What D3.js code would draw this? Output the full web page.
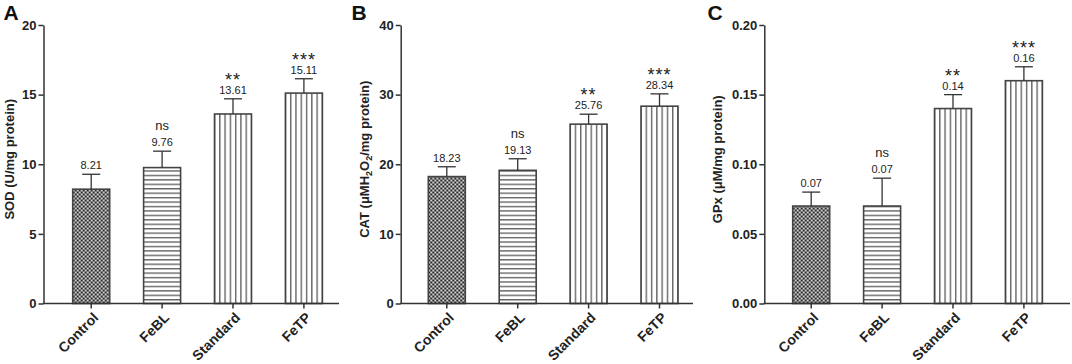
<!DOCTYPE html>
<html>
<head>
<meta charset="utf-8">
<script src="https://cdn.jsdelivr.net/npm/d3@7"></script>
<style>
  html, body { margin: 0; padding: 0; background: #fff; }
  svg { display: block; font-family: "Liberation Sans", Arial, Helvetica, sans-serif; }
</style>
</head>
<body>
<svg id="chart" width="1072" height="364"></svg>
<script>
// ---- data ----
const categories = ["Control", "FeBL", "Standard", "FeTP"];
const significance = ["", "ns", "**", "***"];

const sodValues = [8.21, 9.76, 13.61, 15.11];
const sodErrors = [1.07, 1.18, 1.09, 1.03];
const sodLabels = ["8.21", "9.76", "13.61", "15.11"];
const sodTicks = [0, 5, 10, 15, 20];

const catValues = [18.23, 19.13, 25.76, 28.34];
const catErrors = [1.41, 1.66, 1.43, 1.77];
const catLabels = ["18.23", "19.13", "25.76", "28.34"];
const catTicks = [0, 10, 20, 30, 40];

const gpxValues = [0.07, 0.07, 0.14, 0.16];
const gpxErrors = [0.01, 0.02, 0.01, 0.01];
const gpxLabels = ["0.07", "0.07", "0.14", "0.16"];
const gpxTicks = [0, 0.05, 0.10, 0.15, 0.20];

const patternTypes = ["checker", "hlines", "vlines", "vlines"];

// ---- layout ----
const panels = [
  { letter: "A", letterX: 3.5, axisX: 43.5, axisEnd: 339, barStart: 72.7, titleX: 13.5,
    values: sodValues, errors: sodErrors, labels: sodLabels, ticks: sodTicks,
    fmt: d3.format("d"), title: [["SOD (U/mg protein)", false]] },
  { letter: "B", letterX: 351.5, axisX: 400.7, axisEnd: 693, barStart: 428.3, titleX: 369,
    values: catValues, errors: catErrors, labels: catLabels, ticks: catTicks,
    fmt: d3.format("d"), title: [["CAT (\u03BCMH", false], ["2", true], ["O", false], ["2", true], ["/mg protein)", false]] },
  { letter: "C", letterX: 707.5, axisX: 764.3, axisEnd: 1070, barStart: 792.7, titleX: 722,
    values: gpxValues, errors: gpxErrors, labels: gpxLabels, ticks: gpxTicks,
    fmt: d3.format(".2f"), title: [["GPx (\u03BCM/mg protein)", false]] }
];

const yTop = 25, yBottom = 303.5;
const barWidth = 37, barStep = 70.9;
const inkAxis = "#333", inkBar = "#444", inkFill = "#666";

const svg = d3.select("#chart");
const defs = svg.append("defs");

panels.forEach((p, pi) => {
  const g = svg.append("g");
  const ymax = p.ticks[p.ticks.length - 1];
  const y = d3.scaleLinear().domain([0, ymax]).range([yBottom, yTop]);
  const padInner = 1 - barWidth / barStep;
  const x = d3.scaleBand().domain(categories)
    .range([p.barStart, p.barStart + barStep * (categories.length - padInner)])
    .paddingInner(padInner).paddingOuter(0);

  // patterns per bar
  categories.forEach((c, i) => {
    const bx = x(c);
    const type = patternTypes[i];
    const id = `pat-${pi}-${i}`;
    if (type === "checker") {
      const pat = defs.append("pattern").attr("id", id).attr("patternUnits", "userSpaceOnUse")
        .attr("width", 4).attr("height", 4)
        .attr("patternTransform", `translate(${bx},${yBottom})`);
      pat.append("rect").attr("width", 4).attr("height", 4).attr("fill", "#d0d0d0");
      pat.append("rect").attr("x", 0).attr("y", 0).attr("width", 2).attr("height", 2).attr("fill", "#2a2a2a");
      pat.append("rect").attr("x", 2).attr("y", 2).attr("width", 2).attr("height", 2).attr("fill", "#2a2a2a");
    } else if (type === "hlines") {
      const h = 4.44;
      const pat = defs.append("pattern").attr("id", id).attr("patternUnits", "userSpaceOnUse")
        .attr("width", 10).attr("height", h)
        .attr("patternTransform", `translate(${bx},${yBottom})`);
      pat.append("rect").attr("width", 10).attr("height", h).attr("fill", "#fff");
      pat.append("rect").attr("x", 0).attr("y", 0).attr("width", 10).attr("height", 1.4).attr("fill", inkFill);
    } else {
      const w = x.bandwidth() / 7;
      const pat = defs.append("pattern").attr("id", id).attr("patternUnits", "userSpaceOnUse")
        .attr("width", w).attr("height", 10)
        .attr("patternTransform", `translate(${bx - 0.7},${yBottom})`);
      pat.append("rect").attr("width", w).attr("height", 10).attr("fill", "#fff");
      pat.append("rect").attr("x", 0).attr("y", 0).attr("width", 1.4).attr("height", 10).attr("fill", inkFill);
    }
  });

  // bars
  g.selectAll("rect.bar").data(categories).join("rect")
    .attr("class", "bar")
    .attr("x", c => x(c))
    .attr("width", x.bandwidth())
    .attr("y", (c, i) => y(p.values[i]))
    .attr("height", (c, i) => y(0) - y(p.values[i]))
    .attr("fill", (c, i) => `url(#pat-${pi}-${i})`)
    .attr("stroke", inkBar).attr("stroke-width", 1.6);

  // error bars
  const eb = g.selectAll("g.err").data(categories).join("g").attr("class", "err")
    .attr("stroke", "#333").attr("stroke-width", 1.3);
  eb.append("line")
    .attr("x1", c => x(c) + x.bandwidth() / 2).attr("x2", c => x(c) + x.bandwidth() / 2)
    .attr("y1", (c, i) => y(p.values[i])).attr("y2", (c, i) => y(p.values[i] + p.errors[i]));
  eb.append("line")
    .attr("x1", c => x(c) + x.bandwidth() / 2 - 9).attr("x2", c => x(c) + x.bandwidth() / 2 + 9)
    .attr("y1", (c, i) => y(p.values[i] + p.errors[i])).attr("y2", (c, i) => y(p.values[i] + p.errors[i]));

  // value labels
  g.selectAll("text.val").data(categories).join("text").attr("class", "val")
    .attr("x", c => x(c) + x.bandwidth() / 2)
    .attr("y", (c, i) => y(p.values[i] + p.errors[i]) - 5)
    .attr("text-anchor", "middle").attr("font-size", 11).attr("fill", "#222")
    .text((c, i) => p.labels[i]);

  // significance labels
  g.selectAll("text.sig").data(categories).join("text").attr("class", "sig")
    .attr("x", c => x(c) + x.bandwidth() / 2)
    .attr("y", (c, i) => y(p.values[i] + p.errors[i]) - 5 - (significance[i] === "ns" ? 16 : 8))
    .attr("text-anchor", "middle")
    .attr("font-size", (c, i) => significance[i] === "ns" ? 13 : 18)
    .attr("letter-spacing", (c, i) => significance[i] === "ns" ? 0 : 1)
    .attr("fill", "#222")
    .text((c, i) => significance[i]);

  // y axis
  const yAxis = g.append("g").attr("transform", `translate(${p.axisX},0)`)
    .call(d3.axisLeft(y).tickValues(p.ticks).tickFormat(p.fmt).tickSize(5).tickSizeOuter(0).tickPadding(2));
  yAxis.select(".domain").attr("stroke", inkAxis).attr("stroke-width", 1.5);
  yAxis.selectAll(".tick line").attr("stroke", inkAxis).attr("stroke-width", 1.5);
  yAxis.selectAll(".tick text").attr("font-size", 13).attr("font-weight", "bold")
    .attr("fill", "#222").attr("font-family", "Liberation Sans, Arial, sans-serif");

  // x axis
  const xAxis = g.append("g").attr("transform", `translate(0,${yBottom})`)
    .call(d3.axisBottom(x).tickSize(5).tickSizeOuter(0).tickFormat(""));
  xAxis.select(".domain").remove();
  xAxis.selectAll(".tick line").attr("stroke", inkAxis).attr("stroke-width", 1.5);
  g.append("line").attr("x1", p.axisX - 0.75).attr("x2", p.axisEnd)
    .attr("y1", yBottom).attr("y2", yBottom)
    .attr("stroke", inkAxis).attr("stroke-width", 1.5);

  // x labels
  g.selectAll("text.xl").data(categories).join("text").attr("class", "xl")
    .attr("transform", c => `translate(${x(c) + x.bandwidth() / 2 + 8},${yBottom + 15}) rotate(-45)`)
    .attr("text-anchor", "end").attr("font-size", 14).attr("font-weight", "bold").attr("fill", "#222")
    .text(c => c);

  // y title
  const t = g.append("text")
    .attr("transform", `translate(${p.titleX},${(yTop + yBottom) / 2 - 5}) rotate(-90)`)
    .attr("text-anchor", "middle").attr("font-size", 13).attr("font-weight", "bold").attr("fill", "#222");
  p.title.forEach(([s, sub], i) => {
    const prevSub = i > 0 && p.title[i - 1][1];
    const ts = t.append("tspan").text(s)
      .attr("dy", sub && !prevSub ? 3 : (!sub && prevSub ? -3 : 0));
    if (sub) ts.attr("font-size", 9);
  });

  // panel letter
  g.append("text").attr("x", p.letterX).attr("y", 20)
    .attr("font-size", 21).attr("font-weight", "bold").attr("fill", "#111")
    .text(p.letter);
});
</script>
</body>
</html>
